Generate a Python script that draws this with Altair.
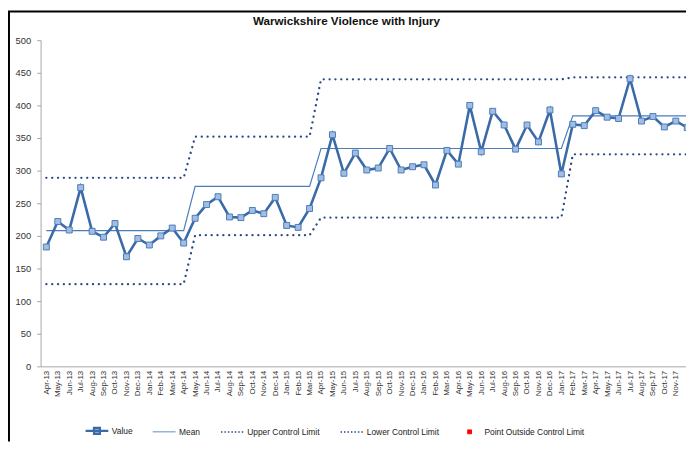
import altair as alt
import pandas as pd

months = [
    "Apr-13", "May-13", "Jun-13", "Jul-13", "Aug-13", "Sep-13", "Oct-13", "Nov-13", "Dec-13",
    "Jan-14", "Feb-14", "Mar-14", "Apr-14", "May-14", "Jun-14", "Jul-14", "Aug-14", "Sep-14",
    "Oct-14", "Nov-14", "Dec-14", "Jan-15", "Feb-15", "Mar-15", "Apr-15", "May-15", "Jun-15",
    "Jul-15", "Aug-15", "Sep-15", "Oct-15", "Nov-15", "Dec-15", "Jan-16", "Feb-16", "Mar-16",
    "Apr-16", "May-16", "Jun-16", "Jul-16", "Aug-16", "Sep-16", "Oct-16", "Nov-16", "Dec-16",
    "Jan-17", "Feb-17", "Mar-17", "Apr-17", "May-17", "Jun-17", "Jul-17", "Aug-17", "Sep-17",
    "Oct-17", "Nov-17", "Dec-17",
]
values = [
    183, 222, 209, 274, 207, 198, 219, 168, 196,
    186, 200, 212, 189, 227, 248, 260, 229, 228,
    239, 234, 259, 216, 213, 242, 289, 355, 296,
    327, 301, 304, 334, 301, 306, 309, 278, 331,
    310, 400, 329, 391, 370, 333, 370, 344, 393,
    295, 371, 369, 392, 382, 380, 441, 376, 383,
    367, 376, 366,
]
# control chart periods (number of months in each) and their levels
period_lengths = [13, 11, 22, 11]
mean_levels = [208, 276, 334, 384]
ucl_levels = [289, 352, 440, 443]
lcl_levels = [126, 201, 228, 325]

legend_names = ["Value", "Mean", "Upper Control Limit", "Lower Control Limit",
                "Point Outside Control Limit"]
legend_strokes = ["#3A6AA7", "#4A7DBA", "#2B4B86", "#2B4B86", "#FF0000"]
legend_fills = ["#A3BDE2", "transparent", "transparent", "transparent", "#FF0000"]
legend_shapes = [
    "M-1,0H1M-0.26,-0.26H0.26V0.26H-0.26Z",
    "M-1,0H1",
    "M-1,0H1",
    "M-1,0H1",
    "M-0.17,-0.17H0.17V0.17H-0.17Z",
]
legend_dashes = [[1, 0], [1, 0], [1.5, 2], [1.5, 2], [1, 0]]
legend_widths = [2.2, 1, 1.6, 1.6, 1]


def steps(levels, lengths):
    out = []
    for lv, n in zip(levels, lengths):
        out += [lv] * n
    return out


df = pd.DataFrame({
    "idx": list(range(len(months))),
    "month": months,
    "value": values,
    "mean": steps(mean_levels, period_lengths),
    "ucl": steps(ucl_levels, period_lengths),
    "lcl": steps(lcl_levels, period_lengths),
})

FONT = "Liberation Sans"
label_expr = "[" + ",".join("'%s'" % m for m in months) + "][datum.value]"

xscale = alt.Scale(domain=[-0.5, 55.89], nice=False, zero=False)
yscale = alt.Scale(domain=[0, 500], nice=False)

x_axis = alt.Axis(values=list(range(56)), labelExpr=label_expr, labelAngle=270,
                  labelFontSize=8, labelFont=FONT, labelColor="#333333", tickSize=0,
                  labelPadding=4, grid=False, domainColor="#A6A6A6", title=None,
                  labelOverlap=False, labelBound=False, labelFlush=False)
y_axis = alt.Axis(values=list(range(0, 501, 50)), labelFontSize=9.5, labelFont=FONT,
                  labelColor="#333333", tickSize=4, tickColor="#A6A6A6", labelPadding=6,
                  grid=False, domainColor="#A6A6A6", title=None)


def xy(field):
    return dict(
        x=alt.X("idx:Q", scale=xscale, axis=x_axis),
        y=alt.Y(field + ":Q", scale=yscale, axis=y_axis),
    )


base = alt.Chart(df)

ucl = base.mark_line(color="#2B4B86", strokeWidth=2.3, strokeDash=[0.1, 5.8],
                     strokeCap="round", clip=True).encode(**xy("ucl"))
lcl = base.mark_line(color="#2B4B86", strokeWidth=2.3, strokeDash=[0.1, 5.8],
                     strokeCap="round", clip=True).encode(**xy("lcl"))
mean = base.mark_line(color="#4A7DBA", strokeWidth=1.2, clip=True).encode(**xy("mean"))
val_line = base.mark_line(color="#3A6AA7", strokeWidth=2.6, clip=True).encode(**xy("value"))
val_pts = base.mark_point(shape="square", size=36, filled=True, fill="#A3BDE2",
                          stroke="#4A7DBA", strokeWidth=1, opacity=1,
                          clip=True).encode(**xy("value"))

leg = alt.Legend(title=None, orient="none", legendX=44, legendY=382, direction="horizontal",
                 columns=5, columnPadding=17, symbolSize=529, labelFontSize=8.5,
                 labelFont=FONT, labelColor="#222222", labelOffset=2)

legend_df = pd.DataFrame({"series": legend_names})
legend_layer = alt.Chart(legend_df).transform_filter("false").mark_point(
    filled=True, opacity=1).encode(
    stroke=alt.Stroke("series:O", scale=alt.Scale(type="ordinal", domain=legend_names,
                                                   range=legend_strokes), legend=leg),
    fill=alt.Fill("series:O", scale=alt.Scale(type="ordinal", domain=legend_names,
                                               range=legend_fills), legend=leg),
    shape=alt.Shape("series:O", scale=alt.Scale(type="ordinal", domain=legend_names,
                                                 range=legend_shapes), legend=leg),
    strokeDash=alt.StrokeDash("series:O", scale=alt.Scale(type="ordinal", domain=legend_names,
                                                           range=legend_dashes), legend=leg),
    strokeWidth=alt.StrokeWidth("series:O", scale=alt.Scale(type="ordinal", domain=legend_names,
                                                             range=legend_widths), legend=leg),
)

frame_df = pd.DataFrame({"k": [0]})
left_border = alt.Chart(frame_df).mark_rule(color="black", strokeWidth=2, clip=False).encode(
    x=alt.value(-32), y=alt.value(-29), y2=alt.value(406))
top_border = alt.Chart(frame_df).mark_rule(color="black", strokeWidth=2, clip=False).encode(
    x=alt.value(-33), x2=alt.value(660), y=alt.value(-29))

chart = alt.layer(ucl, lcl, mean, val_line, val_pts, legend_layer, left_border, top_border).properties(
    width=653, height=330,
    background="white",
    autosize=alt.AutoSizeParams(type="none"),
    padding={"left": 33, "top": 30, "right": 0, "bottom": 76},
    title=alt.TitleParams("Warwickshire Violence with Injury", fontSize=11.8, font=FONT,
                          fontWeight="bold", anchor="middle", dx=-17, offset=-28,
                          baseline="bottom", color="#111111"),
).configure_view(stroke=None)

chart.save("out.html", embed_options={"renderer": "svg", "actions": False})
